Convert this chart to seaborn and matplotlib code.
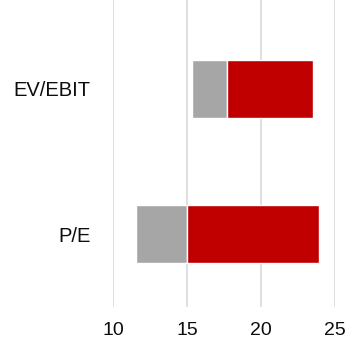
import matplotlib
matplotlib.use("Agg")
import matplotlib.pyplot as plt
import pandas as pd
import seaborn as sns

# Data: floating stacked bars (low / mid / high) per multiple
metrics = ["EV/EBIT", "P/E"]
low_vals = [15.35, 11.55]
mid_vals = [17.7, 15.0]
high_vals = [23.5, 23.9]

df = pd.DataFrame({"metric": metrics, "low": low_vals, "mid": mid_vals, "high": high_vals})
df["gray_w"] = df["mid"] - df["low"]
df["red_w"] = df["high"] - df["mid"]

sns.set_theme(style="white")
plt.rcParams["font.family"] = ["Liberation Sans", "DejaVu Sans"]

fig = plt.figure(figsize=(3.48, 3.40), dpi=100)
ax = fig.add_axes([113 / 348, 33 / 340, 222 / 348, 307 / 340])

# gray segment
sns.barplot(data=df, x="gray_w", y="metric", order=metrics, color="#a6a6a6",
            saturation=1, width=0.4, orient="h", ax=ax, zorder=2)
for patch, lo in zip(ax.patches[:len(metrics)], df["low"]):
    patch.set_x(lo)

# red segment
sns.barplot(data=df, x="red_w", y="metric", order=metrics, color="#c00000",
            saturation=1, width=0.4, orient="h", ax=ax, zorder=2)
for patch, lo in zip(ax.patches[len(metrics):], df["mid"]):
    patch.set_x(lo)

ax.set_xlim(10, 25)
ax.set_ylim(1.5, -0.61)
ax.set_xticks([10, 15, 20, 25])
ax.set_xlabel("")
ax.set_ylabel("")
ax.xaxis.grid(True, color="#d9d9d9", linewidth=1.2, zorder=0)
ax.set_axisbelow(True)
sns.despine(ax=ax, left=True, bottom=True)
ax.tick_params(axis="x", length=0, pad=11, labelsize=14, labelcolor="#0d0d0d")
ax.tick_params(axis="y", length=0, pad=16, labelsize=14.5, labelcolor="#0d0d0d")

fig.savefig("out.png", dpi=100)
